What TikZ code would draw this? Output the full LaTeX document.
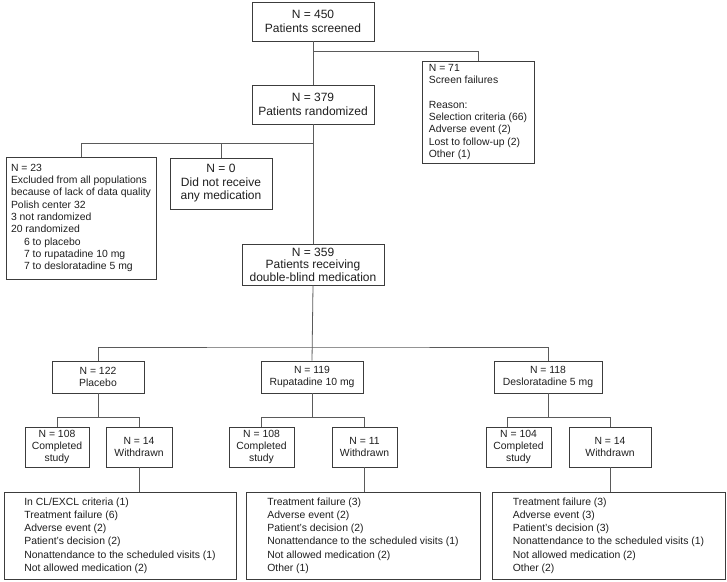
\documentclass[tikz,border=0pt]{standalone}
\usepackage{fontspec}
\setmainfont{Liberation Sans}
\definecolor{ln}{HTML}{5A5A5A}
\definecolor{bx}{HTML}{3C3C3C}
\definecolor{tx}{HTML}{1E1E1E}
\begin{document}
\begin{tikzpicture}[x=1pt,y=-1pt,
  box/.style={draw=bx, line width=0.8pt, inner ysep=0pt, inner xsep=2pt, text=tx, align=center},
  big/.style={font=\fontsize{12}{14}\selectfont},
  bigt/.style={font=\fontsize{12}{12.5}\selectfont},
  small/.style={font=\fontsize{10.4}{12.6}\selectfont},
  smallt/.style={font=\fontsize{10.4}{12.3}\selectfont},
  reas/.style={font=\fontsize{10.4}{13.2}\selectfont},
  conn/.style={draw=ln, line width=0.8pt},
  lbox/.style={box, align=left}
]
\useasboundingbox (0,0) rectangle (727,581);

% top level
\node[box, big, minimum width=122pt, minimum height=39pt] (A) at (313,21.5) {N = 450\\Patients screened};
\node[box, big, minimum width=122pt, minimum height=39pt] (B) at (313,104.5) {N = 379\\Patients randomized};
\node[lbox, smallt, minimum width=112pt, minimum height=102pt, inner xsep=6pt] (F) at (478,112)
  {N = 71\\Screen failures\\[12.3pt]Reason:\\Selection criteria (66)\\Adverse event (2)\\Lost to follow-up (2)\\Other (1)};

\node[lbox, smallt, minimum width=148pt, minimum height=122pt, inner xsep=5pt] (L) at (81,218)
  {N = 23\\Excluded from all populations\\because of lack of data quality\\Polish center 32\\3 not randomized\\20 randomized\\
   \hspace*{13pt}6 to placebo\\\hspace*{13pt}7 to rupatadine 10 mg\\\hspace*{13pt}7 to desloratadine 5 mg};
\node[box, font=\fontsize{12}{13.5}\selectfont, minimum width=102pt, minimum height=51pt] (M) at (221,183.5) {N = 0\\Did not receive\\any medication};
\node[box, bigt, minimum width=142pt, minimum height=41pt] (D) at (313,264.5) {N = 359\\Patients receiving\\double-blind medication};

% arms
\node[box, small, minimum width=92pt, minimum height=32pt] (P) at (98,377) {N = 122\\Placebo};
\node[box, small, minimum width=102pt, minimum height=32pt] (R) at (312,377) {N = 119\\Rupatadine 10 mg};
\node[box, small, minimum width=108pt, minimum height=32pt] (Ds) at (548,377) {N = 118\\Desloratadine 5 mg};

% completed / withdrawn
\node[box, smallt, minimum width=64pt, minimum height=40pt] (Pc) at (57,447) {N = 108\\Completed\\study};
\node[box, small, minimum width=66pt, minimum height=40pt] (Pw) at (139,447) {N = 14\\Withdrawn};
\node[box, smallt, minimum width=65pt, minimum height=40pt] (Rc) at (261.5,447) {N = 108\\Completed\\study};
\node[box, small, minimum width=65pt, minimum height=40pt] (Rw) at (364.5,447) {N = 11\\Withdrawn};
\node[box, smallt, minimum width=65pt, minimum height=40pt] (Dc) at (518.5,447) {N = 104\\Completed\\study};
\node[box, small, minimum width=82pt, minimum height=40pt] (Dw) at (610,447) {N = 14\\Withdrawn};

% reasons
\node[lbox, reas, minimum width=232pt, minimum height=87pt, inner xsep=18pt] (PR) at (120,535.5)
  {In CL/EXCL criteria (1)\\Treatment failure (6)\\Adverse event (2)\\Patient's decision (2)\\Nonattendance to the scheduled visits (1)\\Not allowed medication (2)};
\node[lbox, reas, minimum width=234pt, minimum height=87pt, inner xsep=18pt] (RR) at (363,535.5)
  {Treatment failure (3)\\Adverse event (2)\\Patient's decision (2)\\Nonattendance to the scheduled visits (1)\\Not allowed medication (2)\\Other (1)};
\node[lbox, reas, minimum width=233pt, minimum height=87pt, inner xsep=18pt] (DR) at (608.5,535.5)
  {Treatment failure (3)\\Adverse event (3)\\Patient's decision (3)\\Nonattendance to the scheduled visits (1)\\Not allowed medication (2)\\Other (2)};

% connectors
\coordinate (j1) at (313,51);
\coordinate (j2) at (313,143);
\coordinate (j3) at (313,347);
\coordinate (k) at (0,417);

\draw[conn] (A.south) -- (B.north);
\draw[conn] (j1) -| (F.north);
\draw[conn] (B.south) -- (D.north);
\draw[conn] (L.north) |- (j2);
\draw[conn] (M.north) -- (M.north |- j2);
\draw[conn] (D.south) -- (R.north);
\draw[conn] (P.north) |- (j3) -| (Ds.north);

\draw[conn] (P.south) -- (P.south |- k);
\draw[conn] (Pc.north) |- (Pw.north |- k) -- (Pw.north);
\draw[conn] (R.south) -- (R.south |- k);
\draw[conn] (Rc.north) |- (Rw.north |- k) -- (Rw.north);
\draw[conn] (Ds.south) -- (Ds.south |- k);
\draw[conn] ([xshift=-11.5pt]Dc.north) |- (Dw.north |- k) -- (Dw.north);

\draw[conn] (Pw.south) -- (Pw.south |- PR.north);
\draw[conn] (Rw.south) -- (Rw.south |- RR.north);
\draw[conn] (Dw.south) -- (Dw.south |- DR.north);
\end{tikzpicture}
\end{document}
